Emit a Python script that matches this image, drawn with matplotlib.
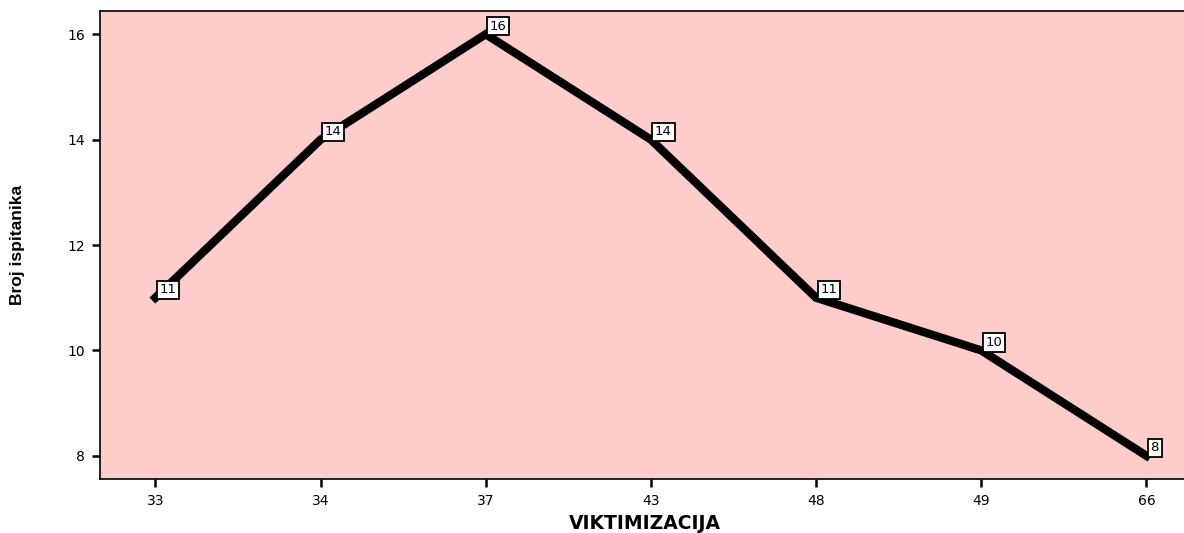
import matplotlib.pyplot as plt

plt.rcParams['font.family'] = ['DejaVu Sans']

categories = ["33", "34", "37", "43", "48", "49", "66"]
counts = [11, 14, 16, 14, 11, 10, 8]

fig = plt.figure(figsize=(11.84, 5.33), dpi=100)
ax = fig.add_axes([0.0845, 0.1013, 0.92, 0.878])
ax.set_facecolor("#FFCCCC")

x = list(range(len(categories)))
ax.plot(x, counts, color="black", linewidth=6, solid_joinstyle="miter")

for xi, v in zip(x, counts):
    ax.annotate(str(v), (xi, v), xytext=(3, 1), textcoords="offset points",
                ha="left", va="bottom", fontsize=9.5,
                bbox=dict(boxstyle="square,pad=0.2", fc="white", ec="black", lw=1.3))

ax.set_xticks(x)
ax.set_xticklabels(categories)
ax.set_yticks([8, 10, 12, 14, 16])
ax.set_xlim(-0.335, 6.26)
ax.set_ylim(7.56, 16.44)
ax.tick_params(direction="out", length=6, width=1.8, labelsize=10, pad=5)
ax.spines["right"].set_visible(False)
for s in ax.spines.values():
    s.set_linewidth(1.2)

ax.set_xlabel("VIKTIMIZACIJA", fontsize=13.5, fontweight="bold", labelpad=4)
ax.set_ylabel("Broj ispitanika", fontsize=12.5, fontweight="bold", labelpad=30,
              family=["Liberation Sans", "DejaVu Sans"])

fig.savefig("out.png", dpi=100)
